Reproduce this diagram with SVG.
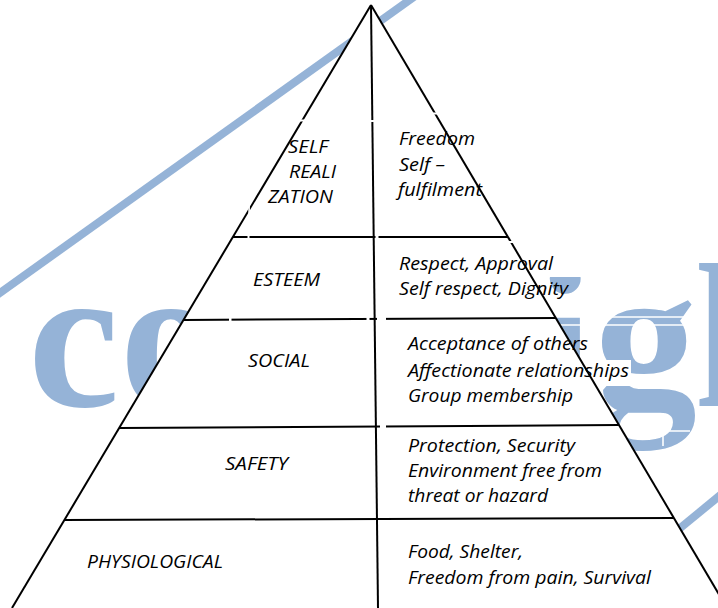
<svg xmlns="http://www.w3.org/2000/svg" width="718" height="608" viewBox="0 0 718 608">
<style>
.t{font-family:"Open Sans","Noto Sans","Liberation Sans",sans-serif;font-style:italic;font-size:18.5px;fill:#000}
.ln{stroke:#000;stroke-width:2;fill:none;stroke-linecap:butt}
.wm{font-family:"Liberation Serif","Times New Roman",serif;font-weight:bold;font-size:206px;fill:#95B3D7}
.wl{stroke:#95B3D7;stroke-width:8;fill:none}
.gap{fill:#fff}
.wst{stroke:#fff;stroke-width:1.6;fill:none}
</style>
<rect x="0" y="0" width="718" height="608" fill="#fff"/>
<g id="watermark">
<text class="wm" x="28" y="406">co</text>
<text class="wm" x="536" y="406">i</text>
<text class="wm" x="594" y="406">g</text>
<text class="wm" x="694" y="406">h</text>
<line class="wl" x1="-10" y1="300" x2="425" y2="-11"/>
<line class="wl" x1="640" y1="561" x2="740" y2="479"/>
<rect class="gap" x="540" y="250" width="45" height="27"/>
<rect class="gap" x="540" y="299" width="50" height="18"/>
<rect class="gap" x="560" y="360" width="71" height="26"/>
<line class="wst" x1="553" y1="317" x2="700" y2="317"/>
<line class="wst" x1="553" y1="325" x2="700" y2="325"/>
<line class="wst" x1="620" y1="431" x2="690" y2="431"/>
<line class="wst" x1="663" y1="430" x2="663" y2="446"/>
</g>
<polygon id="pyramid" points="371,5 727,608 12,608" fill="#fff"/>
<g id="connectors">
<line class="ln" x1="371" y1="5" x2="12" y2="608"/>
<line class="ln" x1="371" y1="5" x2="727" y2="608"/>
<line class="ln" x1="371" y1="5" x2="378" y2="608"/>
<line class="ln" x1="233" y1="237" x2="508" y2="237"/>
<line class="ln" x1="184" y1="320" x2="556" y2="318"/>
<line class="ln" x1="119" y1="428" x2="619" y2="425"/>
<line class="ln" x1="64" y1="520" x2="674" y2="518"/>
</g>
<g id="gaps">
<rect class="gap" x="296" y="119.5" width="9" height="2"/>
<rect class="gap" x="248.3" y="204" width="1.6" height="13"/>
<rect class="gap" x="247.5" y="234" width="2" height="6"/>
<rect class="gap" x="369" y="120" width="7" height="2"/>
<rect class="gap" x="430" y="112.5" width="10" height="2"/>
<rect class="gap" x="375.5" y="234" width="3" height="6"/>
<rect class="gap" x="508" y="241" width="7" height="2"/>
<rect class="gap" x="229" y="316" width="2.5" height="8"/>
<rect class="gap" x="366.5" y="315" width="3" height="8"/>
<rect class="gap" x="377" y="315" width="9" height="8"/>
<rect class="gap" x="380" y="423" width="6" height="8"/>
</g>
<g id="self-realization">
<text class="t" x="288" y="153" textLength="40" lengthAdjust="spacingAndGlyphs">SELF</text>
<text class="t" x="289" y="178" textLength="47" lengthAdjust="spacingAndGlyphs">REALI</text>
<text class="t" x="268" y="203" textLength="65" lengthAdjust="spacingAndGlyphs">ZATION</text>
<text class="t" x="399" y="145" textLength="76" lengthAdjust="spacingAndGlyphs">Freedom</text>
<text class="t" x="399" y="171" textLength="46" lengthAdjust="spacingAndGlyphs">Self –</text>
<text class="t" x="398" y="196" textLength="84" lengthAdjust="spacingAndGlyphs">fulfilment</text>
</g>
<g id="esteem">
<text class="t" x="253" y="286" textLength="67" lengthAdjust="spacingAndGlyphs">ESTEEM</text>
<text class="t" x="399" y="270" textLength="154" lengthAdjust="spacingAndGlyphs">Respect, Approval</text>
<text class="t" x="399" y="295" textLength="169" lengthAdjust="spacingAndGlyphs">Self respect, Dignity</text>
</g>
<g id="social">
<text class="t" x="248" y="367" textLength="62" lengthAdjust="spacingAndGlyphs">SOCIAL</text>
<text class="t" x="408" y="350" textLength="180" lengthAdjust="spacingAndGlyphs">Acceptance of others</text>
<text class="t" x="408" y="377" textLength="221" lengthAdjust="spacingAndGlyphs">Affectionate relationships</text>
<text class="t" x="408" y="402" textLength="165" lengthAdjust="spacingAndGlyphs">Group membership</text>
</g>
<g id="safety">
<text class="t" x="225" y="470" textLength="63" lengthAdjust="spacingAndGlyphs">SAFETY</text>
<text class="t" x="408" y="452" textLength="167" lengthAdjust="spacingAndGlyphs">Protection, Security</text>
<text class="t" x="408" y="477" textLength="194" lengthAdjust="spacingAndGlyphs">Environment free from</text>
<text class="t" x="408" y="502" textLength="140" lengthAdjust="spacingAndGlyphs">threat or hazard</text>
</g>
<g id="physiological">
<text class="t" x="87" y="568" textLength="136" lengthAdjust="spacingAndGlyphs">PHYSIOLOGICAL</text>
<text class="t" x="408" y="558" textLength="115" lengthAdjust="spacingAndGlyphs">Food, Shelter,</text>
<text class="t" x="408" y="584" textLength="243" lengthAdjust="spacingAndGlyphs">Freedom from pain, Survival</text>
</g>
</svg>
